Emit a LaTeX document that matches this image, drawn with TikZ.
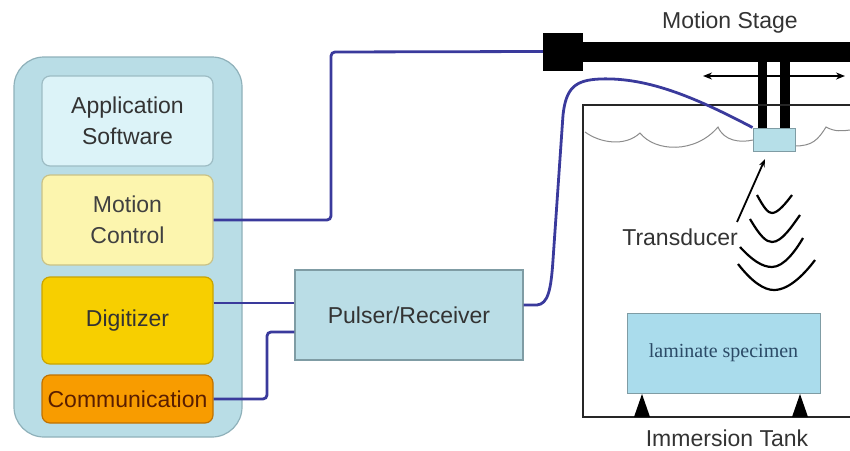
\documentclass[tikz,border=0pt]{standalone}
\usepackage{fontspec}
\setmainfont{Liberation Sans}
\newfontfamily\serifface{Liberation Serif}
\usetikzlibrary{arrows.meta,calc}

\definecolor{panelfill}{HTML}{B9DDE6}
\definecolor{panelline}{HTML}{8FB1BA}
\definecolor{appfill}{HTML}{DCF3F8}
\definecolor{appline}{HTML}{9DBCC4}
\definecolor{mcfill}{HTML}{FCF5AE}
\definecolor{mcline}{HTML}{C9C287}
\definecolor{digfill}{HTML}{F7CF00}
\definecolor{digline}{HTML}{C9A400}
\definecolor{comfill}{HTML}{F89C00}
\definecolor{comline}{HTML}{C07200}
\definecolor{prfill}{HTML}{BADDE6}
\definecolor{prline}{HTML}{7F9CA4}
\definecolor{wirecol}{HTML}{3A3A9C}
\definecolor{txt}{HTML}{333333}
\definecolor{lamtxt}{HTML}{2B4A66}
\definecolor{lamfill}{HTML}{AADCEC}

\tikzset{
  module/.style={draw=#1, line width=1.2pt, rounded corners=8pt, align=center,
                 inner sep=0pt, font=\fontsize{23}{31}\selectfont, text=txt},
  wire/.style={draw=wirecol, line width=2.8pt, rounded corners=4pt},
  tankwall/.style={draw=black!85, line width=2.2pt},
  wave/.style={draw=black, line width=2.2pt},
  label/.style={font=\fontsize{23}{31}\selectfont, text=txt, inner sep=0pt},
}

\begin{document}
\begin{tikzpicture}[x=1pt,y=-1pt]
\useasboundingbox (0,0) rectangle (850,450);

% --- controller rack ---
\node[draw=panelline, fill=panelfill, line width=1.2pt, rounded corners=30pt,
      minimum width=228pt, minimum height=380pt, inner sep=0pt] (rack) at (128,247) {};
\node[module=appline, fill=appfill, minimum width=171pt, minimum height=90pt] (app) at (127.5,121) {Application\\Software};
\node[module=mcline, fill=mcfill, minimum width=171pt, minimum height=90pt, text=black!75] (mc) at (127.5,220) {Motion\\Control};
\node[module=digline, fill=digfill, minimum width=171pt, minimum height=87pt, text=black!80] (dig) at (127.5,320.5) {Digitizer};
\node[module=comline, fill=comfill, minimum width=171pt, minimum height=48pt, text={rgb,255:red,90;green,30;blue,0}] (com) at (127.5,399) {Communication};

% --- pulser / receiver ---
\node[draw=prline, fill=prfill, line width=1.2pt, minimum width=228pt, minimum height=90pt,
      inner sep=0pt, font=\fontsize{23}{31}\selectfont, text=txt] (pr) at (409,315) {Pulser/Receiver};

% --- motion stage ---
\node[fill=black, minimum width=40pt, minimum height=38pt, inner sep=0pt] (drive) at (563,51.5) {};
\fill[black] (583,42) rectangle (850,62);
\fill[black] (758,61) rectangle (767,129);
\fill[black] (780,61) rectangle (790,129);
\draw[black, line width=1.6pt, {Stealth[length=9pt,width=7pt]}-{Stealth[length=9pt,width=7pt]}] (703,76) -- (845,76);
\node[label] (stagelbl) at (730,23) {Motion Stage};

% --- immersion tank ---
\draw[tankwall] (850,105) -- (583,105) -- (583,417) -- (850,417);
% water surface
\draw[black!45, line width=1pt]
  (585,132) .. controls (600,143) and (625,147) .. (640,133)
  .. controls (655,152) and (695,154) .. (718,127)
  .. controls (724,141) and (740,143) .. (753,140);
\draw[black!45, line width=1pt]
  (795,146) .. controls (812,146) and (818,140) .. (826,127)
  .. controls (835,132) and (842,131) .. (850,130);

% transducer head
\node[draw=prline, fill={rgb,255:red,182;green,223;blue,232}, line width=1pt,
      minimum width=42pt, minimum height=23pt, inner sep=0pt] (trans) at (774,139.5) {};
\coordinate (tip) at (765,159);
\coordinate (tail) at (737,222);
\draw[black, line width=1.8pt, -{Stealth[length=8pt,width=6pt]}] (tail) -- (tip);
\node[label, anchor=east] (translbl) at (738,237) {Transducer};

% ultrasonic wavefronts
\draw[wave] (757,195) .. controls (764,208) and (768,213) .. (772,213) .. controls (778,213) and (786,203) .. (792,195);
\draw[wave] (750,219) .. controls (760,236) and (766,242) .. (772,242) .. controls (782,242) and (792,226) .. (800,215);
\draw[wave] (740,247) .. controls (752,260) and (762,267) .. (772,267) .. controls (784,267) and (796,250) .. (803,238);
\draw[wave] (738,264) .. controls (752,282) and (764,290) .. (774,290) .. controls (790,290) and (806,272) .. (815,260);

% specimen on supports
\node[draw=prline, fill=lamfill, line width=1pt, minimum width=193pt, minimum height=80pt,
      inner sep=0pt, font=\serifface\fontsize{20}{23}\selectfont, text=lamtxt] (spec) at (723.5,353) {laminate specimen};
\fill[black] (634,417) -- (642,394) -- (650,417) -- cycle;
\fill[black] (792,417) -- (800,394) -- (808,417) -- cycle;
\node[label] (tanklbl) at (727,438) {Immersion Tank};

% --- cabling ---
\coordinate (mcbend) at (331,52);
\draw[wire] (mc.east) -| (mcbend) -- (drive.west);
\draw[wire] (dig.east |- {$(pr.west)+(0,-12)$}) -- ($(pr.west)+(0,-12)$);
\coordinate (combend) at (267,332);
\draw[wire] (com.east) -| (combend) -- ($(pr.west)+(0,17)$);
\draw[draw=wirecol, line width=2.8pt]
  ($(pr.east)+(0,-10)$) -- (537,305) .. controls (548,304) and (551,290) .. (553,260)
  -- (563,115) .. controls (566,88) and (575,80) .. (600,79)
  .. controls (650,77) and (700,100) .. (trans.north west);
\end{tikzpicture}
\end{document}
